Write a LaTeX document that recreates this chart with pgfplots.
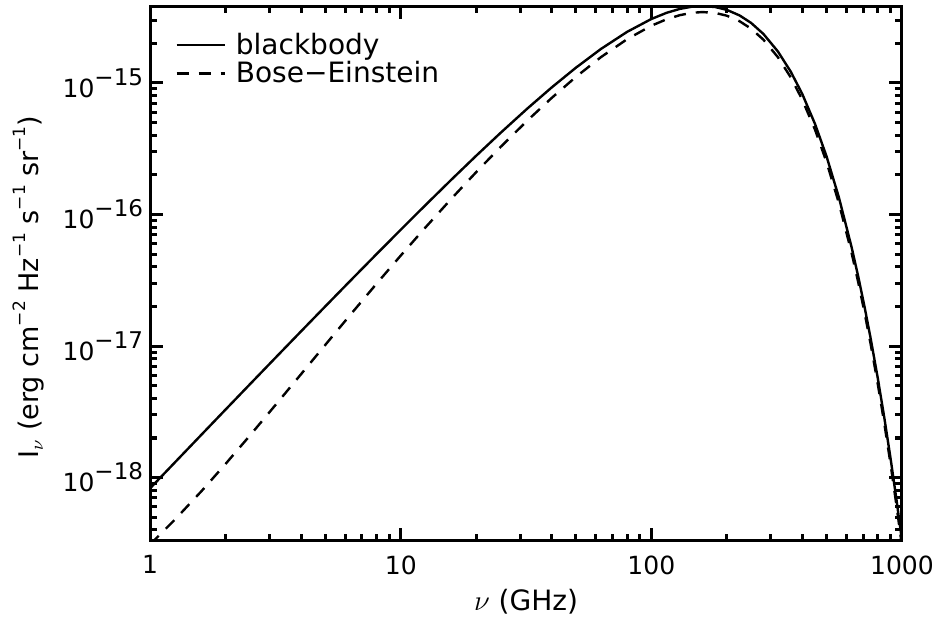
\documentclass[border=0pt]{standalone}
\usepackage{fontspec}
\setmainfont{DejaVu Sans}
\usepackage{pgfplots}
\usepackage{pgfplotstable}
\pgfplotsset{compat=1.18}

% nu [GHz], blackbody, Bose-Einstein  (erg cm^-2 Hz^-1 s^-1 sr^-1)
\pgfplotstableread{
nu    bb           be
1     8.300e-19    3.113e-19
1.25  1.2940e-18   4.753e-19
1.6   2.1134e-18   7.865e-19
2     3.2907e-18   1.2707e-18
2.5   5.1189e-18   2.0873e-18
3.2   8.3347e-18   3.6588e-18
4     1.29307e-17  6.110e-18
5     2.00248e-17  1.02108e-17
6.3   3.14237e-17  1.73232e-17
8     4.99021e-17  2.97094e-17
10    7.6576e-17   4.8729e-17
12.5  1.16960e-16  7.9060e-17
16    1.85572e-16  1.33059e-16
20    2.79403e-16  2.09790e-16
25    4.16557e-16  3.25373e-16
32    6.38409e-16  5.17207e-16
40    9.22826e-16  7.68180e-16
50    1.30528e-15  1.11088e-15
63    1.81397e-15  1.57232e-15
80    2.44252e-15  2.14834e-15
100   3.06050e-15  2.71961e-15
115   3.40989e-15  3.04510e-15
130   3.65341e-15  3.27409e-15
145   3.79348e-15  3.40829e-15
160   3.83845e-15  3.45515e-15
180   3.77178e-15  3.40113e-15
200   3.59134e-15  3.24226e-15
225   3.25553e-15  2.94195e-15
250   2.85723e-15  2.58359e-15
280   2.35491e-15  2.13028e-15
320   1.73165e-15  1.56693e-15
360   1.21684e-15  1.10124e-15
400   8.24563e-16  7.46271e-16
450   4.86511e-16  4.40320e-16
500   2.76633e-16  2.50366e-16
560   1.35105e-16  1.22274e-16
630   5.60785e-17  5.07518e-17
670   3.33507e-17  3.01823e-17
710   1.96225e-17  1.77584e-17
750   1.14358e-17  1.03492e-17
800   5.75420e-18  5.20743e-18
850   2.86157e-18  2.58963e-18
900   1.40833e-18  1.27449e-18
950   6.86720e-19  6.21454e-19
1000  3.32078e-19  3.00514e-19
}\spectra

\newcommand{\tenexp}[1]{10\raisebox{0.48em}{\fontsize{11.5}{11.5}\selectfont −#1}}
\newcommand{\sups}[1]{\raisebox{0.5em}{\fontsize{8.5}{8.5}\selectfont −#1}}

\begin{document}
\begin{tikzpicture}
\begin{axis}[
  width=375.5pt, height=267pt, scale only axis,
  xmode=log, ymode=log,
  xmin=1, xmax=1000, ymin=3.32e-19, ymax=3.84e-15,
  axis line style={line width=1.5pt},
  every tick/.style={black, line width=1.5pt},
  tick align=inside,
  major tick length=6.5pt, minor tick length=3.5pt,
  xtick={1,10,100,1000}, xticklabels={1,10,100,1000},
  minor xtick={2,3,4,5,6,7,8,9,20,30,40,50,60,70,80,90,200,300,400,500,600,700,800,900},
  ytick={1e-18,1e-17,1e-16,1e-15},
  yticklabels={\tenexp{18},\tenexp{17},\tenexp{16},\tenexp{15}},
  minor ytick={4e-19,5e-19,6e-19,7e-19,8e-19,9e-19,
               2e-18,3e-18,4e-18,5e-18,6e-18,7e-18,8e-18,9e-18,
               2e-17,3e-17,4e-17,5e-17,6e-17,7e-17,8e-17,9e-17,
               2e-16,3e-16,4e-16,5e-16,6e-16,7e-16,8e-16,9e-16,
               2e-15,3e-15},
  ticklabel style={font=\fontsize{12.5}{12.5}\selectfont},
  xticklabel style={yshift=-4pt},
  yticklabel style={xshift=0pt},
  xlabel={$\nu$ (GHz)},
  ylabel={I$_{\nu}$ (erg cm\sups{2} Hz\sups{1} s\sups{1} sr\sups{1})},
  every axis x label/.style={at={(axis description cs:0.5,-0.114)}, anchor=center,
    font=\fontsize{14}{14}\selectfont},
  every axis y label/.style={at={(axis description cs:-0.162,0.474)}, rotate=90, anchor=center,
    font=\fontsize{13.5}{13.5}\selectfont},
  legend cell align=left,
  legend style={at={(axis description cs:0.025,0.965)}, anchor=north west,
    draw=none, fill=none, font=\fontsize{14}{14}\selectfont, row sep=-2pt},
  legend image code/.code={\draw[#1] (0pt,0pt) -- (24pt,0pt); \path (27pt,0pt);},
]
\addplot[black, line width=1.2pt] table[x=nu, y=bb] {\spectra};
\addlegendentry{blackbody}
\addplot[black, line width=1.2pt, dash pattern=on 6pt off 5pt] table[x=nu, y=be] {\spectra};
\addlegendentry{Bose−Einstein}
\end{axis}
\pgfresetboundingbox
\path[use as bounding box] ([shift={(-75pt,-38.5pt)}]current axis.south west)
  rectangle ([shift={(16.5pt,3pt)}]current axis.north east);
\end{tikzpicture}
\end{document}
